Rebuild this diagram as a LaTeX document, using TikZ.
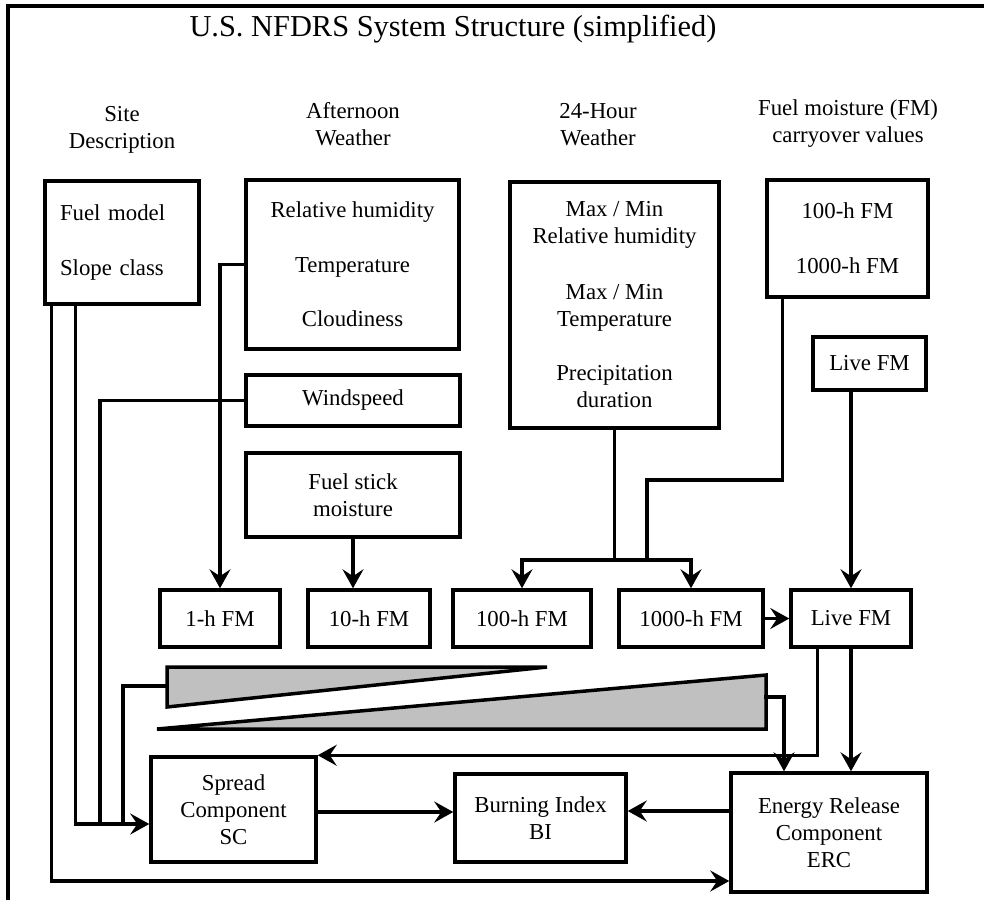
\documentclass[tikz,border=0pt]{standalone}
\usepackage{fontspec}
\setmainfont{Liberation Serif}
\usetikzlibrary{arrows.meta,calc}
\definecolor{wedgegray}{RGB}{192,192,192}
\begin{document}
\begin{tikzpicture}[x=1pt,y=-1pt,
  every node/.style={font=\fontsize{22.8}{27}\selectfont},
  box/.style={draw,line width=3.5pt,inner sep=0pt,align=center},
  ln/.style={line width=3.5pt,line cap=rect},
  arr/.style={line width=3.5pt,line cap=rect,-{Stealth[length=19pt,width=21pt,inset=7pt]}},
  hdr/.style={align=center},
  wedgeshape/.style={draw,line width=3.5pt,fill=wedgegray,line join=miter}
]
\useasboundingbox (0,0) rectangle (984,900);
% frame
\draw[line width=3.5pt] (8,900) -- (8,6) -- (984,6);
% title
\node[anchor=base,font=\fontsize{30.4}{36}\selectfont] (title) at (453,36) {U.S. NFDRS System Structure (simplified)};
% headers
\node[hdr] (hsite) at (122,130) {Site\\Description};
\node[hdr] (haft) at (353,124) {Afternoon\\Weather};
\node[hdr] (h24h) at (598,125) {24-Hour\\Weather};
\node[hdr] (hcarry) at (848,124) {Fuel moisture (FM)\\carryover values};
% boxes
\node[box,minimum width=154,minimum height=123,text width=124,align=left] (site) at (122,242.5) {Fuel model\\[28pt]Slope class};
\node[box,minimum width=213,minimum height=169] (aft) at (352.5,264.5) {Relative humidity\\[28pt]Temperature\\[27pt]Cloudiness};
\node[box,minimum width=214,minimum height=51] (wind) at (353,400.5) {Windspeed};
\node[box,minimum width=214,minimum height=84] (stick) at (353,495) {Fuel stick\\moisture};
\node[box,minimum width=209,minimum height=246] (h24) at (614.5,305) {Max / Min\\Relative humidity\\[29pt]Max / Min\\Temperature\\[27pt]Precipitation\\duration};
\node[box,minimum width=161,minimum height=117] (carry) at (847.5,238.5) {100-h FM\\[28pt]1000-h FM};
\node[box,minimum width=113,minimum height=53] (live1) at (869.5,363.5) {Live FM};
\node[box,minimum width=120,minimum height=57] (fm1) at (220,618.5) {1-h FM};
\node[box,minimum width=122,minimum height=57] (fm10) at (369,618.5) {10-h FM};
\node[box,minimum width=138,minimum height=57] (fm100) at (522,618.5) {100-h FM};
\node[box,minimum width=144,minimum height=57] (fm1000) at (691,618.5) {1000-h FM};
\node[box,minimum width=120,minimum height=57] (live2) at (851,618.5) {Live FM};
\node[box,minimum width=165,minimum height=105] (sc) at (233.5,809.5) {Spread\\Component\\SC};
\node[box,minimum width=171,minimum height=88] (bi) at (540.5,818) {Burning Index\\BI};
\node[box,minimum width=196,minimum height=119] (erc) at (829,832.5) {Energy Release\\Component\\ERC};
% wedges
\draw[wedgeshape] (167,667) -- (547,667) -- (167,707) -- cycle;
\draw[wedgeshape] (157,729) -- (766,729) -- (766,675) -- cycle;
\coordinate (w1l) at (167,686);
\coordinate (w2r) at (766,697);
% connectors
\draw[arr] ($(site.south west)+(8,0)$) |- (erc.west |- 0,881);
\draw[arr] ($(site.south west)+(32,0)$) |- (sc.west |- 0,824);
\draw[ln] (wind.west) -| (100,824);
\draw[ln] (w1l) -| (123,824);
\draw[arr] (aft.west) -| (fm1.north);
\draw[arr] (stick.south) -- (stick.south |- fm10.north);
\draw[ln] (h24.south) -- (h24.south |- 0,560);
\draw[ln] ($(carry.south west)+(17,0)$) |- (647,480) -- (647,560);
\draw[ln] (fm100.north |- 0,560) -- (fm1000.north |- 0,560);
\draw[arr] (fm100.north |- 0,560) -- (fm100.north);
\draw[arr] (fm1000.north |- 0,560) -- (fm1000.north);
\draw[arr] (live2.north |- live1.south) -- (live2.north);
\draw[arr] (fm1000.east) -- (live2.west);
\draw[arr] ($(live2.south west)+(28,0)$) |- (sc.north east);
\draw[arr] (live2.south) -- (live2.south |- erc.north);
\draw[arr] (w2r) -| (erc.north -| 784,0);
\draw[arr] (sc.east |- 0,812) -- (bi.west |- 0,812);
\draw[arr] (erc.west |- 0,811) -- (bi.east |- 0,811);
\end{tikzpicture}
\end{document}
